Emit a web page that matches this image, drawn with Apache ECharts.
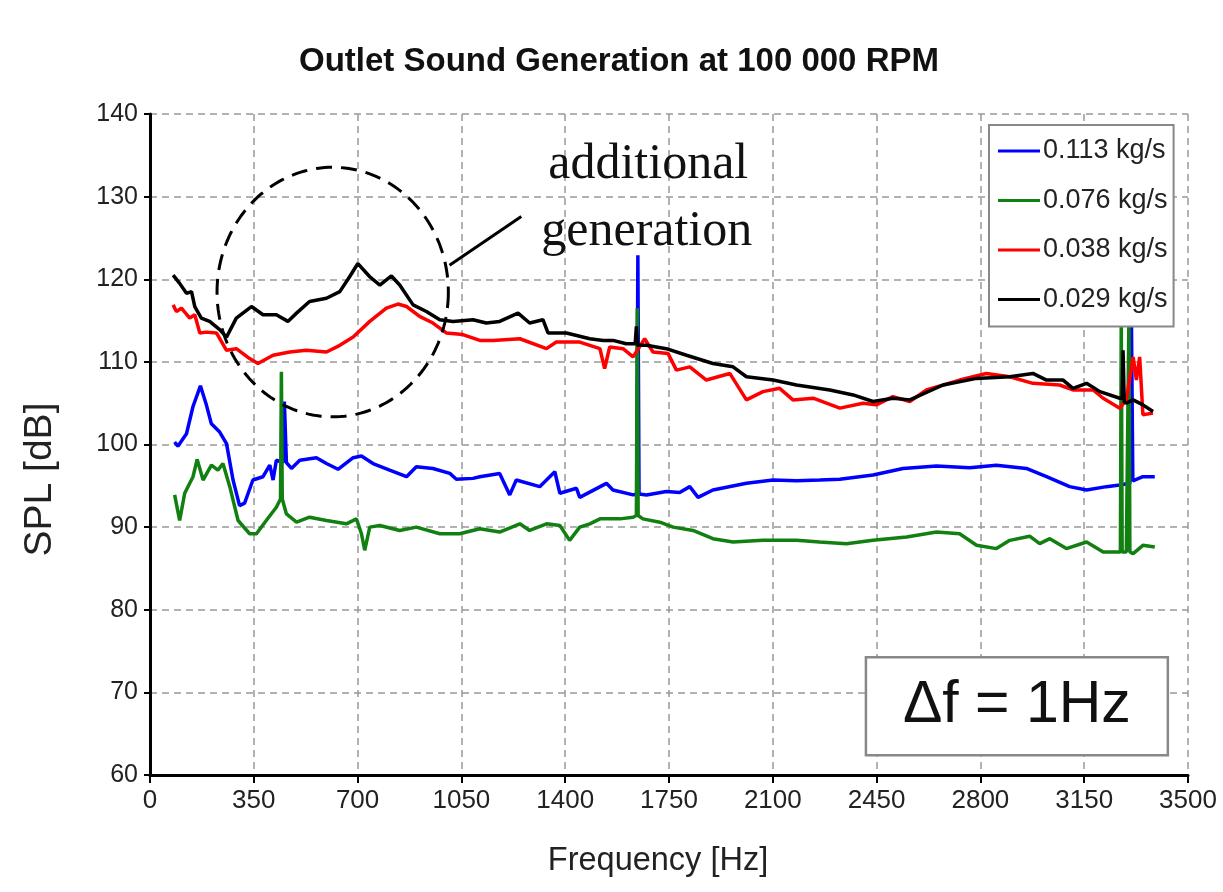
<!DOCTYPE html>
<html><head><meta charset="utf-8">
<script src="https://cdn.jsdelivr.net/npm/echarts@6/dist/echarts.min.js"></script>
<style>html,body{margin:0;padding:0;background:#fff}#c{width:1223px;height:892px}</style>
</head><body><div id="c"></div>
<script>
// ---------- data ----------
const titleText = 'Outlet Sound Generation at 100 000 RPM';
const seriesNames = ['0.113 kg/s', '0.076 kg/s', '0.038 kg/s', '0.029 kg/s'];
const seriesColors = ['#0000ff', '#118011', '#ff0000', '#000000'];

const blueFreq = [83,94,123,145,170,190,207,235,258,280,302,319,347,381,404,415,426,448,453,460,477,505,561,595,634,685,713,752,808,865,898,954,1011,1033,1089,1112,1179,1213,1235,1314,1365,1382,1438,1449,1539,1561,1629,1641,1645,1649,1674,1741,1786,1820,1848,1898,2011,2101,2180,2258,2326,2438,2539,2652,2764,2854,2955,3023,3101,3158,3225,3270,3304,3309,3314,3348,3388];
const blueSPL  = [100.3,99.8,101.3,104.6,107.1,104.8,102.5,101.5,100.1,95.7,92.6,92.9,95.7,96.1,97.5,95.7,98.1,97.8,105.2,97.8,97.1,98.1,98.4,97.7,97.0,98.4,98.6,97.7,96.9,96.1,97.3,97.1,96.5,95.8,95.9,96.1,96.5,93.9,95.7,94.9,96.7,94.1,94.7,93.6,95.3,94.5,93.9,94.0,122.9,94.0,93.9,94.3,94.2,94.9,93.6,94.5,95.3,95.7,95.6,95.7,95.8,96.3,97.1,97.4,97.2,97.5,97.1,96.1,94.9,94.5,94.9,95.1,95.3,116.0,95.6,96.1,96.1];

const greenFreq = [83,100,117,145,159,179,207,229,246,269,297,336,359,392,426,440,443,446,460,494,538,595,662,696,713,724,741,775,842,898,977,1044,1112,1179,1247,1280,1337,1382,1415,1449,1483,1517,1584,1629,1640,1643,1646,1662,1719,1764,1831,1898,1966,2067,2180,2258,2348,2438,2551,2652,2730,2787,2854,2899,2966,3000,3034,3090,3158,3214,3264,3272,3275,3278,3292,3298,3301,3304,3315,3348,3388];
const greenSPL  = [93.9,90.8,94.1,96.1,98.2,95.7,97.5,96.9,97.7,94.9,90.8,89.2,89.2,90.8,92.4,93.4,108.8,93.4,91.6,90.6,91.2,90.8,90.4,91.0,89.2,87.2,90.0,90.2,89.6,90.0,89.2,89.2,89.8,89.4,90.4,89.6,90.4,90.2,88.4,90.0,90.4,91.0,91.0,91.2,91.4,116.5,91.4,91.0,90.6,90.0,89.6,88.6,88.2,88.4,88.4,88.2,88.0,88.4,88.8,89.4,89.2,87.8,87.4,88.4,88.9,88.0,88.6,87.4,88.2,87.0,87.0,87.0,116.0,87.0,87.0,87.0,116.0,87.0,86.8,87.8,87.6];

const redFreq = [78,89,106,134,151,168,190,224,258,291,336,364,415,471,527,595,640,685,741,797,836,865,909,954,999,1055,1112,1157,1247,1337,1370,1449,1517,1533,1550,1595,1629,1668,1696,1747,1775,1820,1876,1955,2011,2067,2123,2168,2236,2326,2404,2449,2505,2562,2618,2730,2820,2899,2977,3067,3112,3180,3214,3270,3292,3315,3326,3337,3348,3382];
const redSPL  = [116.9,116.1,116.5,115.3,115.7,113.5,113.6,113.5,111.4,111.6,110.4,109.8,110.8,111.2,111.4,111.2,112.0,113.0,114.9,116.5,117.0,116.7,115.5,114.7,113.5,113.3,112.6,112.6,112.8,111.6,112.4,112.4,111.6,109.2,111.8,111.6,110.6,112.8,111.2,111.0,109.0,109.4,107.8,108.6,105.4,106.4,106.8,105.4,105.6,104.4,105.0,104.8,105.8,105.2,106.6,107.8,108.6,108.2,107.4,107.2,106.6,106.6,105.6,104.4,105.4,110.6,107.8,110.6,103.6,103.8];

const blackFreq = [78,100,123,140,151,173,201,235,258,291,342,381,426,465,494,538,595,640,673,701,741,775,814,842,887,932,977,1022,1089,1134,1179,1241,1280,1325,1342,1404,1483,1528,1561,1606,1636,1640,1644,1674,1741,1809,1898,1966,2011,2101,2180,2292,2371,2438,2505,2562,2674,2787,2899,2977,3023,3079,3112,3158,3203,3270,3278,3281,3285,3292,3315,3348,3382];
const blackSPL  = [120.5,119.5,118.3,118.5,116.7,115.3,114.9,113.9,113.0,115.3,116.7,115.7,115.7,114.9,115.9,117.3,117.7,118.5,120.3,121.9,120.3,119.3,120.4,119.3,116.9,116.1,115.1,114.9,115.1,114.7,114.9,115.9,114.7,115.1,113.5,113.5,112.8,112.6,112.6,112.2,112.2,114.3,112.0,112.0,111.6,110.8,109.8,109.4,108.2,107.8,107.2,106.6,106.0,105.2,105.6,105.4,107.2,108.0,108.2,108.6,107.8,107.8,106.8,107.4,106.4,105.6,105.6,111.4,105.2,105.0,105.4,104.8,104.0];

const xMin = 0, xMax = 3500, xStep = 350;
const yMin = 60, yMax = 140, yStep = 10;
const xName = 'Frequency [Hz]';
const yName = 'SPL [dB]';
const noteLines = ['additional', 'generation'];
const boxText = 'Δf = 1Hz';

// ---------- chart ----------
const pairs = (f, v) => f.map((x, i) => [x, v[i]]);
const allData = [pairs(blueFreq, blueSPL), pairs(greenFreq, greenSPL), pairs(redFreq, redSPL), pairs(blackFreq, blackSPL)];
const font = 'Liberation Sans, Arial, sans-serif';

const chart = echarts.init(document.getElementById('c'), null, {renderer: 'canvas'});
chart.setOption({
  animation: false,
  backgroundColor: '#ffffff',
  title: {
    text: titleText, left: 294, top: 40, padding: 5,
    textStyle: {fontFamily: font, fontSize: 33, fontWeight: 'bold', color: '#111'}
  },
  grid: {left: 150, right: 35, top: 114, bottom: 117, containLabel: false},
  xAxis: {
    type: 'value', min: xMin, max: xMax, interval: xStep,
    name: xName, nameLocation: 'middle', nameGap: 70,
    nameTextStyle: {fontFamily: font, fontSize: 32.5, color: '#222', padding: [0, 22, 0, 0]},
    axisLine: {show: true, onZero: false, lineStyle: {color: '#000', width: 3}},
    axisTick: {show: true, length: 8, lineStyle: {color: '#000', width: 2}},
    axisLabel: {fontFamily: font, fontSize: 26, color: '#222', margin: 13, formatter: v => String(v)},
    splitLine: {show: true, lineStyle: {color: '#999', width: 1.5, type: [7, 5]}}
  },
  yAxis: {
    type: 'value', min: yMin, max: yMax, interval: yStep,
    name: yName, nameLocation: 'middle', nameGap: 90,
    nameTextStyle: {fontFamily: font, fontSize: 39, color: '#222', padding: [0, 70, 0, 0]},
    axisLine: {show: true, onZero: false, lineStyle: {color: '#000', width: 3}},
    axisTick: {show: true, length: 6, lineStyle: {color: '#000', width: 2}},
    axisLabel: {fontFamily: font, fontSize: 25, color: '#222', margin: 12, formatter: v => String(v)},
    splitLine: {show: true, lineStyle: {color: '#999', width: 1.5, type: [7, 5]}}
  },
  legend: {
    orient: 'vertical', left: 989, top: 125,
    icon: 'rect', itemWidth: 42, itemHeight: 3, itemGap: 19.5,
    backgroundColor: '#fff', borderColor: '#888', borderWidth: 2,
    padding: [11, 6, 12, 9],
    textStyle: {fontFamily: font, fontSize: 27, color: '#222', lineHeight: 30, padding: [0, 0, 0, -2]},
    data: seriesNames
  },
  series: seriesNames.map((n, i) => ({
    name: n, type: 'line', data: allData[i], symbol: 'none', showSymbol: false,
    color: seriesColors[i], lineStyle: {color: seriesColors[i], width: 3.5}, z: 2 + i
  }))
});

// ---------- annotations (anchored to data coordinates) ----------
const P = (f, v) => chart.convertToPixel({gridIndex: 0}, [f, v]);
const c = P(616, 118.45);
const ex = P(616 + 390, 118.45), ey = P(616, 118.45 + 15.1);
const rx = ex[0] - c[0], ry = c[1] - ey[1];
const ell = [];
for (let k = 0; k <= 180; k++) {
  const a = k / 180 * Math.PI * 2;
  ell.push([c[0] + rx * Math.cos(a), c[1] + ry * Math.sin(a)]);
}
const l1 = P(1010, 121.7), l2 = P(1252, 127.6);
const t1 = P(1680, 133.8), t2 = P(1675, 125.7);
const b1 = P(2414, 74.25), b2 = P(3432, 62.4);

chart.setOption({
  graphic: [
    {type: 'polyline', shape: {points: ell}, z: 50,
     style: {stroke: '#000', lineWidth: 3, fill: null, lineDash: [16, 9]}},
    {type: 'line', shape: {x1: l1[0], y1: l1[1], x2: l2[0], y2: l2[1]}, z: 50,
     style: {stroke: '#000', lineWidth: 3}},
    {type: 'text', x: t1[0], y: t1[1], z: 50,
     style: {text: noteLines[0], font: '50px "Liberation Serif", "Times New Roman", serif', fill: '#111', textAlign: 'center', textVerticalAlign: 'middle'}},
    {type: 'text', x: t2[0], y: t2[1], z: 50,
     style: {text: noteLines[1], font: '50px "Liberation Serif", "Times New Roman", serif', fill: '#111', textAlign: 'center', textVerticalAlign: 'middle'}},
    {type: 'rect', shape: {x: b1[0], y: b1[1], width: b2[0] - b1[0], height: b2[1] - b1[1]}, z: 50,
     style: {fill: '#fff', stroke: '#888', lineWidth: 2.5}},
    {type: 'text', x: (b1[0] + b2[0]) / 2, y: (b1[1] + b2[1]) / 2, z: 51,
     style: {text: boxText, font: '59px "Liberation Sans", Arial, sans-serif', fill: '#111', textAlign: 'center', textVerticalAlign: 'middle'}}
  ]
});
</script></body></html>
